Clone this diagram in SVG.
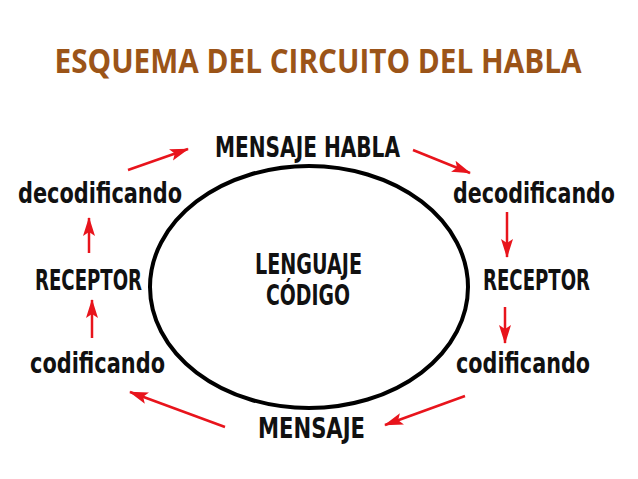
<svg xmlns="http://www.w3.org/2000/svg" width="638" height="479" viewBox="0 0 638 479">
<style>
.t{font-family:"DejaVu Sans Condensed","DejaVu Sans",sans-serif;font-weight:bold;fill:#111;font-size:28px}
.title{font-family:"Open Sans","Liberation Sans",sans-serif;font-weight:bold;fill:#9b5418;font-size:34px}
.arr{stroke:#e8141c;stroke-width:2.5;fill:none;marker-end:url(#ah)}
</style>
<defs>
<marker id="ah" markerUnits="userSpaceOnUse" markerWidth="20" markerHeight="14" refX="18" refY="7" orient="auto">
<path d="M0,1 L19,7 L0,13 L4,7 Z" fill="#e8141c"/>
</marker>
</defs>
<rect width="638" height="479" fill="#fff"/>
<text class="title" x="318" y="73" text-anchor="middle" textLength="527" lengthAdjust="spacingAndGlyphs">ESQUEMA DEL CIRCUITO DEL HABLA</text>
<g id="circuit">
<ellipse cx="309" cy="287" rx="159" ry="121" fill="none" stroke="#000" stroke-width="4"/>
</g>
<g id="centro">
<text class="t" x="255" y="274" textLength="107" lengthAdjust="spacingAndGlyphs">LENGUAJE</text>
<text class="t" x="266" y="305" textLength="84" lengthAdjust="spacingAndGlyphs">CÓDIGO</text>
</g>
<g id="mensaje-habla"><text class="t" x="215" y="157" textLength="185" lengthAdjust="spacingAndGlyphs">MENSAJE HABLA</text></g>
<g id="decodificando-der"><text class="t" x="453" y="203" textLength="162" lengthAdjust="spacingAndGlyphs">decodificando</text></g>
<g id="receptor-der"><text class="t" x="483" y="290" textLength="107" lengthAdjust="spacingAndGlyphs">RECEPTOR</text></g>
<g id="codificando-der"><text class="t" x="456" y="373" textLength="134" lengthAdjust="spacingAndGlyphs">codificando</text></g>
<g id="mensaje"><text class="t" x="258" y="438" textLength="107" lengthAdjust="spacingAndGlyphs">MENSAJE</text></g>
<g id="codificando-izq"><text class="t" x="30" y="373" textLength="135" lengthAdjust="spacingAndGlyphs">codificando</text></g>
<g id="receptor-izq"><text class="t" x="35" y="290" textLength="107" lengthAdjust="spacingAndGlyphs">RECEPTOR</text></g>
<g id="decodificando-izq"><text class="t" x="18" y="203" textLength="164" lengthAdjust="spacingAndGlyphs">decodificando</text></g>
<g id="connectors">
<line class="arr" x1="128" y1="170" x2="188" y2="149"/>
<line class="arr" x1="413" y1="150" x2="470" y2="173"/>
<line class="arr" x1="507" y1="212" x2="507" y2="257"/>
<line class="arr" x1="505" y1="307" x2="505" y2="343"/>
<line class="arr" x1="465" y1="396" x2="385" y2="425"/>
<line class="arr" x1="225" y1="427" x2="130" y2="392"/>
<line class="arr" x1="92" y1="338" x2="92" y2="300"/>
<line class="arr" x1="89" y1="253" x2="89" y2="218"/>
</g>
</svg>
